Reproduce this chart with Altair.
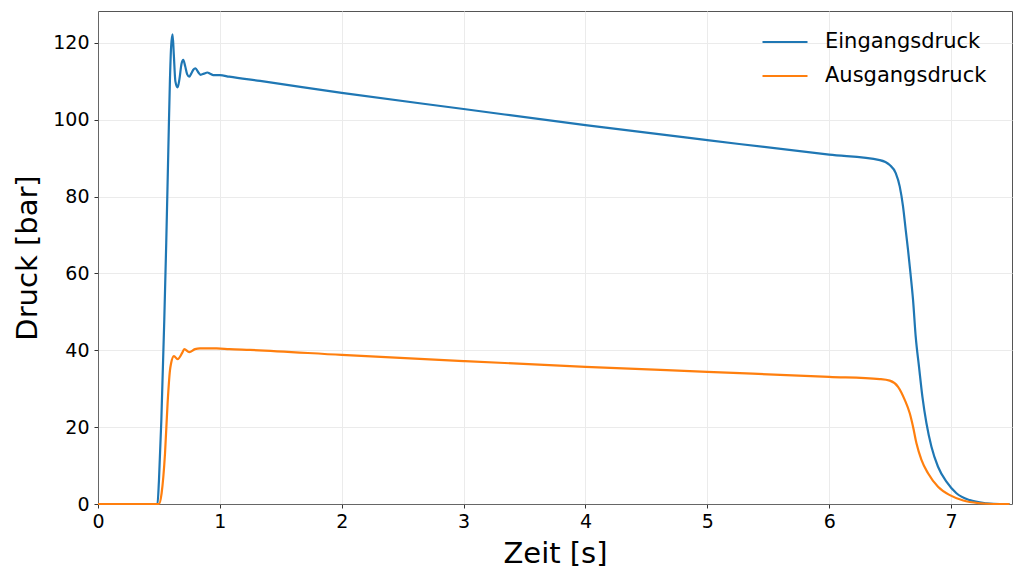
import altair as alt
import pandas as pd

series_names = ["Eingangsdruck", "Ausgangsdruck"]
colors = ["#1f77b4", "#ff7f0e"]

t_in = [0.0, 0.488, 0.50, 0.52, 0.544, 0.56, 0.577, 0.59, 0.60, 0.612, 0.622, 0.635,
        0.653, 0.668, 0.685, 0.70, 0.715, 0.732, 0.749, 0.765, 0.782, 0.80, 0.82,
        0.842, 0.87, 0.897, 0.92, 0.946, 1.0, 1.077, 1.33, 2.0, 3.0, 4.0, 5.0, 6.0,
        6.415, 6.497, 6.546, 6.579, 6.606, 6.628, 6.647, 6.667, 6.688, 6.71,
        6.737, 6.765, 6.798, 6.839, 6.893, 6.962, 7.044, 7.153, 7.29, 7.40, 7.48]
p_in = [0.0, 0.0, 6.0, 22.0, 48.0, 68.0, 92.0, 110.0, 119.0, 122.2, 117.0, 110.0,
        108.4, 110.5, 114.5, 115.6, 114.0, 111.8, 111.2, 112.0, 113.0, 113.4, 112.5,
        111.7, 112.0, 112.3, 112.0, 111.6, 111.6, 111.2, 110.1, 107.0, 102.8, 98.6, 94.7, 90.9,
        89.5, 88.2, 86.1, 82.6, 77.4, 71.3, 66.1, 60.0, 53.1, 43.5,
        35.7, 27.9, 21.0, 14.9, 9.7, 5.8, 2.8, 1.0, 0.2, 0.0, 0.0]

t_out = [0.0, 0.50, 0.522, 0.55, 0.571, 0.591, 0.599, 0.623, 0.653, 0.692, 0.708,
         0.749, 0.796, 0.837, 0.973, 1.077, 1.247, 2.0, 3.0, 4.0, 5.0, 6.0,
         6.415, 6.497, 6.565, 6.62, 6.661, 6.688, 6.716, 6.757, 6.811, 6.893, 6.99,
         7.10, 7.235, 7.35, 7.48]
p_out = [0.0, 0.0, 2.8, 13.2, 26.2, 34.9, 36.5, 38.5, 37.7, 39.4, 40.3,
         39.5, 40.3, 40.5, 40.5, 40.3, 40.1, 38.8, 37.2, 35.7, 34.4, 33.1,
         32.5, 32.1, 30.5, 27.1, 23.6, 20.1, 15.8, 11.5, 8.0, 4.5, 2.3,
         0.9, 0.2, 0.0, 0.0]

x_ticks = [0, 1, 2, 3, 4, 5, 6, 7]
y_ticks = [0, 20, 40, 60, 80, 100, 120]

df = pd.concat([
    pd.DataFrame({"t": t_in, "p": p_in, "s": series_names[0]}),
    pd.DataFrame({"t": t_out, "p": p_out, "s": series_names[1]}),
])

font = "DejaVu Sans"

chart = alt.Chart(df).mark_line(strokeWidth=2.2, interpolate="monotone").encode(
    x=alt.X("t:Q", title="Zeit [s]",
            scale=alt.Scale(domain=[0, 7.5], nice=False, zero=False),
            axis=alt.Axis(values=x_ticks, format="d", labelFontSize=19, titleFontSize=29,
                          titleFontWeight="normal", titlePadding=8, tickSize=4,
                          labelPadding=4, labelFlush=False, labelFont=font, titleFont=font,
                          labelColor="black", titleColor="black", tickColor="#333",
                          domainColor="#666", gridColor="#ebebeb")),
    y=alt.Y("p:Q", title="Druck [bar]",
            scale=alt.Scale(domain=[0, 128.3], nice=False),
            axis=alt.Axis(values=y_ticks, format="d", labelFontSize=19, titleFontSize=29,
                          titleFontWeight="normal", titlePadding=10, tickSize=4,
                          labelPadding=5, labelFlush=False, labelFont=font, titleFont=font,
                          labelColor="black", titleColor="black", tickColor="#333",
                          domainColor="#666", gridColor="#ebebeb")),
    color=alt.Color("s:N", scale=alt.Scale(domain=series_names, range=colors),
                    legend=alt.Legend(title=None, orient="none", legendX=663, legendY=7,
                                      symbolType="stroke", symbolSize=2025,
                                      symbolStrokeWidth=2.2, labelFontSize=21,
                                      labelFont=font, labelColor="black", labelLimit=400,
                                      labelOffset=16, rowPadding=-4)),
    order=alt.Order("t:Q"),
).properties(
    width=914, height=493,
    autosize=alt.AutoSizeParams(type="none"),
    padding={"left": 90, "top": 3, "right": 4, "bottom": 72},
).configure_view(stroke="#555", strokeWidth=1)

chart.save("out.html", embed_options={"renderer": "svg", "actions": False})
